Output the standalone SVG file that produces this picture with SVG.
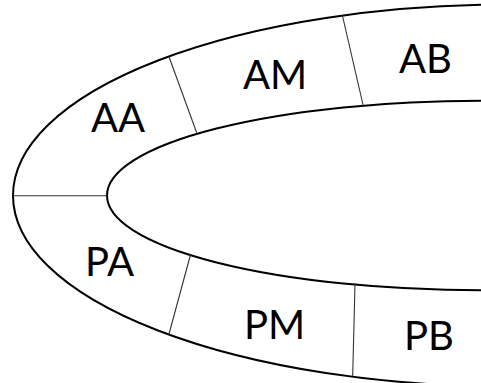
<svg xmlns="http://www.w3.org/2000/svg" width="481" height="383" viewBox="0 0 481 383">
<style>
.ring{fill:none;stroke:#000;stroke-width:2}
.div{fill:none;stroke:#333;stroke-width:1.1}
.lbl{font-family:Lato,"Open Sans","Liberation Sans",sans-serif;font-size:40px;fill:#000;text-anchor:middle}
</style>
<rect width="481" height="383" fill="#fff"/>
<g id="rings">
<ellipse class="ring" cx="508" cy="195.5" rx="495" ry="191"/>
<ellipse class="ring" cx="481" cy="195.5" rx="374" ry="94.7"/>
</g>
<g id="connectors">
<line class="div" x1="13" y1="195.7" x2="107" y2="195.7"/>
<line class="div" x1="169" y1="56.7" x2="196.7" y2="132.7"/>
<line class="div" x1="342.3" y1="15" x2="363.3" y2="106"/>
<line class="div" x1="190.7" y1="254" x2="169" y2="334"/>
<line class="div" x1="355" y1="283.3" x2="352.7" y2="376"/>
</g>
<g id="AA"><text class="lbl" x="118" y="132">AA</text></g>
<g id="AM"><text class="lbl" x="275" y="89">AM</text></g>
<g id="AB"><text class="lbl" x="425.5" y="73">AB</text></g>
<g id="PA"><text class="lbl" x="109.5" y="276">PA</text></g>
<g id="PM"><text class="lbl" x="274.5" y="339">PM</text></g>
<g id="PB"><text class="lbl" x="429" y="349.5">PB</text></g>
</svg>
